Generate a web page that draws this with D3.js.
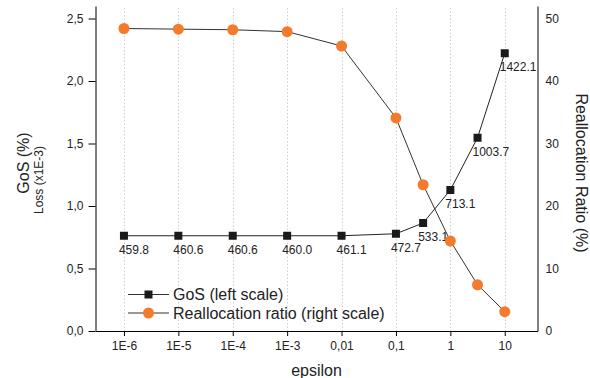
<!DOCTYPE html>
<html lang="en">
<head>
  <meta charset="UTF-8">
  <title>GoS and Reallocation Ratio vs epsilon</title>
  <style>
    body {
      margin: 0;
      background: #fff;
      font-family: "Liberation Sans", Arial, sans-serif;
    }
    .axis text {
      font-family: "Liberation Sans", Arial, sans-serif;
      font-size: 12px;
      fill: #222;
    }
    .axis path, .axis line {
      stroke: #000;
    }
  </style>
</head>
<body>
  <div id="chart"></div>

  <script src="https://d3js.org/d3.v7.min.js"></script>
  <script>
    // epsilon values (x) and their tick labels
    const epsilon = [1e-6, 1e-5, 1e-4, 1e-3, 0.01, 0.1, 0.316, 1, 3.16, 10];
    const tickValues = [1e-6, 1e-5, 1e-4, 1e-3, 0.01, 0.1, 1, 10];
    const tickLabels = ["1E-6", "1E-5", "1E-4", "1E-3", "0,01", "0,1", "1", "10"];

    // GoS in % (left scale) and loss labels (x1E-3)
    const gos = [0.762, 0.762, 0.762, 0.762, 0.762, 0.778, 0.864, 1.128, 1.546, 2.222];
    const lossLabels = ["459.8", "460.6", "460.6", "460.0", "461.1", "472.7", "533.1", "713.1", "1003.7", "1422.1"];

    // Reallocation ratio in % (right scale)
    const realloc = [48.4, 48.3, 48.2, 47.9, 45.6, 34.1, 23.4, 14.4, 7.4, 3.1];

    const leftTicks = [0, 0.5, 1.0, 1.5, 2.0, 2.5];
    const rightTicks = [0, 10, 20, 30, 40, 50];

    const width = 590, height = 378;
    const margin = { top: 6, right: 52.5, bottom: 47, left: 95.5 };
    const orange = "#f47a2c";

    const svg = d3.select("#chart").append("svg")
      .attr("width", width)
      .attr("height", height);

    const x = d3.scaleLog()
      .domain([3e-7, 40])
      .range([margin.left, width - margin.right]);

    const yL = d3.scaleLinear()
      .domain([0, 2.6])
      .range([height - margin.bottom, margin.top]);

    const yR = d3.scaleLinear()
      .domain([0, 52])
      .range([height - margin.bottom, margin.top]);

    // dotted vertical grid
    svg.append("g")
      .selectAll("line")
      .data(tickValues)
      .enter()
      .append("line")
      .attr("x1", d => Math.round(x(d)) + 0.5)
      .attr("x2", d => Math.round(x(d)) + 0.5)
      .attr("y1", margin.top + 2)
      .attr("y2", height - margin.bottom)
      .attr("stroke", "#cfcfcf")
      .attr("stroke-dasharray", "1.5,2");

    // axes
    svg.append("g")
      .attr("class", "axis")
      .attr("transform", `translate(0, ${height - margin.bottom})`)
      .call(d3.axisBottom(x)
        .tickValues(tickValues)
        .tickFormat((d, i) => tickLabels[i])
        .tickSizeInner(5)
        .tickSizeOuter(0)
        .tickPadding(5));

    svg.append("g")
      .attr("class", "axis")
      .attr("transform", `translate(${margin.left}, 0)`)
      .call(d3.axisLeft(yL)
        .tickValues(leftTicks)
        .tickFormat(d => d.toFixed(1).replace(".", ","))
        .tickSizeInner(7)
        .tickSizeOuter(0)
        .tickPadding(5));

    svg.append("g")
      .attr("class", "axis")
      .attr("transform", `translate(${width - margin.right}, 0)`)
      .call(d3.axisRight(yR)
        .tickValues(rightTicks)
        .tickSizeInner(0)
        .tickSizeOuter(0)
        .tickPadding(8));

    // axis titles
    svg.append("text")
      .attr("transform", `translate(29, 163) rotate(-90)`)
      .attr("text-anchor", "middle")
      .style("font-size", "16px")
      .attr("fill", "#222")
      .text("GoS (%)");

    svg.append("text")
      .attr("transform", `translate(43, 180) rotate(-90)`)
      .attr("text-anchor", "middle")
      .style("font-size", "12px")
      .attr("fill", "#222")
      .text("Loss (x1E-3)");

    svg.append("text")
      .attr("transform", `translate(576, 173) rotate(90)`)
      .attr("text-anchor", "middle")
      .style("font-size", "16px")
      .attr("fill", "#222")
      .text("Reallocation Ratio (%)");

    svg.append("text")
      .attr("x", x(0.01) - 25)
      .attr("y", 376)
      .attr("text-anchor", "middle")
      .style("font-size", "16px")
      .attr("fill", "#222")
      .text("epsilon");

    // GoS series
    const gosData = epsilon.map((e, i) => ({ e, v: gos[i], label: lossLabels[i] }));
    const reData = epsilon.map((e, i) => ({ e, v: realloc[i] }));

    svg.append("path")
      .datum(gosData)
      .attr("fill", "none")
      .attr("stroke", "#222")
      .attr("stroke-width", 1)
      .attr("d", d3.line().x(d => x(d.e)).y(d => yL(d.v)));

    svg.append("path")
      .datum(reData)
      .attr("fill", "none")
      .attr("stroke", "#333")
      .attr("stroke-width", 1)
      .attr("d", d3.line().x(d => x(d.e)).y(d => yR(d.v)));

    svg.selectAll(".sq")
      .data(gosData)
      .enter()
      .append("rect")
      .attr("class", "sq")
      .attr("x", d => x(d.e) - 4)
      .attr("y", d => yL(d.v) - 4)
      .attr("width", 8)
      .attr("height", 8)
      .attr("fill", "#1a1a1a");

    svg.selectAll(".lbl")
      .data(gosData)
      .enter()
      .append("text")
      .attr("class", "lbl")
      .attr("x", d => x(d.e) - 5)
      .attr("y", d => yL(d.v) + 18)
      .style("font-size", "12px")
      .attr("fill", "#222")
      .text(d => d.label);

    svg.selectAll(".dot")
      .data(reData)
      .enter()
      .append("circle")
      .attr("class", "dot")
      .attr("cx", d => x(d.e))
      .attr("cy", d => yR(d.v))
      .attr("r", 5.5)
      .attr("fill", orange);

    // legend
    const legend = [
      { name: "GoS (left scale)", type: "square" },
      { name: "Reallocation ratio (right scale)", type: "circle" }
    ];
    const lg = svg.append("g").attr("transform", "translate(128, 294.5)");
    legend.forEach((d, i) => {
      const g = lg.append("g").attr("transform", `translate(0, ${i * 18.5})`);
      g.append("line")
        .attr("x1", 0).attr("x2", 41)
        .attr("y1", 0).attr("y2", 0)
        .attr("stroke", "#333");
      if (d.type === "square") {
        g.append("rect")
          .attr("x", 16.5).attr("y", -4)
          .attr("width", 8).attr("height", 8)
          .attr("fill", "#1a1a1a");
      } else {
        g.append("circle")
          .attr("cx", 20.5).attr("cy", 0)
          .attr("r", 5.5)
          .attr("fill", orange);
      }
      g.append("text")
        .attr("x", 45)
        .attr("y", 5.5)
        .style("font-size", "16px")
        .attr("fill", "#222")
        .text(d.name);
    });
  </script>
</body>
</html>
